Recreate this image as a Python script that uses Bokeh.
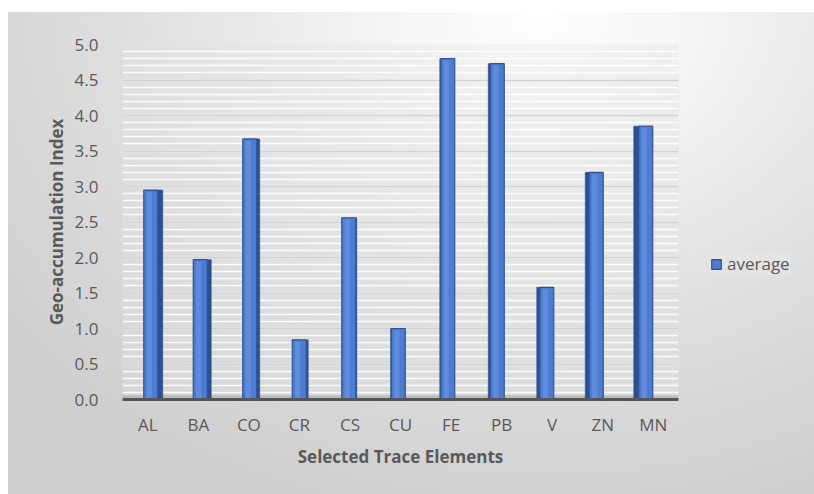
import numpy as np
from bokeh.plotting import figure
from bokeh.layouts import row
from bokeh.models import (Range1d, SingleIntervalTicker, PrintfTickFormatter,
                          Legend, LegendItem, BoxAnnotation, ColumnDataSource, FixedTicker)
from bokeh.embed import file_html
from bokeh.resources import INLINE

# Geo-accumulation index per trace element (average)
elements = ["AL", "BA", "CO", "CR", "CS", "CU", "FE", "PB", "V", "ZN", "MN"]
average = [2.95, 1.97, 3.67, 0.84, 2.56, 1.0, 4.8, 4.73, 1.58, 3.2, 3.85]

FONT = "Open Sans"
TXT = "#595959"
FRONT_FILL, FRONT_LINE = "#4d7dd2", "#2f528f"

W, H = 814, 494
LEGEND_W = 106
LEFT, RIGHT, TOP, BOTTOM = 122, 30, 44, 95
PW = W - LEGEND_W
frame_w = PW - LEFT - RIGHT
n = len(elements)
ppu = frame_w / n  # pixels per category unit

# perspective: columns drift toward the centre, side faces shown toward the centre
idx = np.arange(n)
centers = idx + 0.5
front_x = centers + (3 - 1.05 * idx) / ppu
front_w = 14 / ppu
side_w = np.maximum(np.abs(idx - 5), 0.5) / ppu
side_x = np.where(idx < 5, front_x + front_w / 2 + side_w / 2,
                  front_x - front_w / 2 - side_w / 2)
hi_x = front_x - 1.5 / ppu
hi_w = 5 / ppu

src = ColumnDataSource(dict(
    fx=front_x, sx=side_x, sw=side_w, hx=hi_x,
    top=average, top_hi=np.array(average) - 0.03,
))

p = figure(width=PW, height=H, output_backend="svg", toolbar_location=None,
           x_range=Range1d(0, n), y_range=Range1d(0, 5),
           min_border_left=LEFT, min_border_right=RIGHT,
           min_border_top=TOP, min_border_bottom=BOTTOM)
p.border_fill_color = None
p.background_fill_color = "#e2e2e2"
p.background_fill_alpha = 0.35
p.outline_line_color = None

# floor of the chart
p.add_layout(BoxAnnotation(bottom=0, top=0.06, fill_color="#b5b5b5", fill_alpha=0.8,
                           line_color=None, level="underlay"))

p.vbar(x="sx", width="sw", top="top", bottom=0, source=src,
       fill_color="#2c5094", line_color="#2a4c8a", line_width=0.5)
p.vbar(x="fx", width=front_w, top="top", bottom=0, source=src,
       fill_color=FRONT_FILL, line_color=FRONT_LINE, line_width=1.2)
p.vbar(x="hx", width=hi_w, top="top_hi", bottom=0.01, source=src,
       fill_color="#6e9ae6", fill_alpha=0.55, line_color=None)

# y axis
p.yaxis.ticker = SingleIntervalTicker(interval=0.5, num_minor_ticks=5)
p.yaxis.formatter = PrintfTickFormatter(format="%.1f")
p.yaxis.axis_line_color = None
p.yaxis.major_tick_line_color = None
p.yaxis.minor_tick_line_color = None
p.yaxis.major_label_standoff = 18
p.yaxis.major_label_text_font = FONT
p.yaxis.major_label_text_font_size = "17px"
p.yaxis.major_label_text_color = TXT
p.yaxis.axis_label = "Geo-accumulation Index"
p.yaxis.axis_label_text_font = FONT
p.yaxis.axis_label_text_font_size = "17px"
p.yaxis.axis_label_text_font_style = "bold"
p.yaxis.axis_label_text_color = TXT
p.yaxis.axis_label_standoff = 4

# x axis
p.xaxis.ticker = FixedTicker(ticks=list(centers))
p.xaxis.major_label_overrides = {float(c): e for c, e in zip(centers, elements)}
p.xaxis.axis_line_color = "#555555"
p.xaxis.axis_line_width = 3
p.xaxis.major_tick_line_color = None
p.xaxis.minor_tick_line_color = None
p.xaxis.major_label_standoff = 7
p.xaxis.major_label_text_font = FONT
p.xaxis.major_label_text_font_size = "17px"
p.xaxis.major_label_text_color = TXT
p.xaxis.axis_label = "Selected Trace Elements"
p.xaxis.axis_label_text_font = FONT
p.xaxis.axis_label_text_font_size = "17px"
p.xaxis.axis_label_text_font_style = "bold"
p.xaxis.axis_label_text_color = TXT
p.xaxis.axis_label_standoff = 6

# grid: back-wall lines
p.xgrid.grid_line_color = None
p.ygrid.grid_line_color = "#d2d2d2"
p.ygrid.grid_line_width = 1.5
p.ygrid.minor_grid_line_color = "#ffffff"
p.ygrid.minor_grid_line_width = 1.5
p.ygrid.minor_grid_line_alpha = 0.9

# legend panel to the right of the chart (same vertical borders, so frames line up)
lp = figure(width=LEGEND_W, height=H, output_backend="svg", toolbar_location=None,
            x_range=Range1d(0, 1), y_range=Range1d(0, 1),
            x_axis_type=None, y_axis_type=None,
            min_border_left=0, min_border_right=0,
            min_border_top=TOP, min_border_bottom=BOTTOM)
lp.border_fill_color = None
lp.background_fill_color = None
lp.outline_line_color = None
lp.xgrid.visible = False
lp.ygrid.visible = False
# hidden key renderer carrying the column style for the legend swatch
key = lp.vbar(x=[0.5], top=[average[0]], width=0.5, fill_color=FRONT_FILL,
              line_color=FRONT_LINE, line_width=1.2)
key.visible = False

legend = Legend(items=[LegendItem(label="average", renderers=[key])],
                location=(2, 124), orientation="vertical")
legend.inactive_fill_alpha = 0
legend.background_fill_color = "#e6e6e6"
legend.background_fill_alpha = 0.7
legend.border_line_color = None
legend.label_text_font = FONT
legend.label_text_font_size = "17px"
legend.label_text_color = TXT
legend.glyph_width = 12
legend.glyph_height = 12
legend.label_standoff = 5
legend.padding = 14
legend.margin = 0
lp.add_layout(legend, "center")

layout = row(p, lp, spacing=0)
layout.styles = {
    "background": "radial-gradient(ellipse 85% 110% at 66% 0%, #ffffff 0%, #f3f3f3 25%, "
                  "#dfdfdf 60%, #cecece 100%) 8px 12px / 806px 482px no-repeat #ffffff"
}

open("out.html", "w").write(file_html(layout, INLINE))
